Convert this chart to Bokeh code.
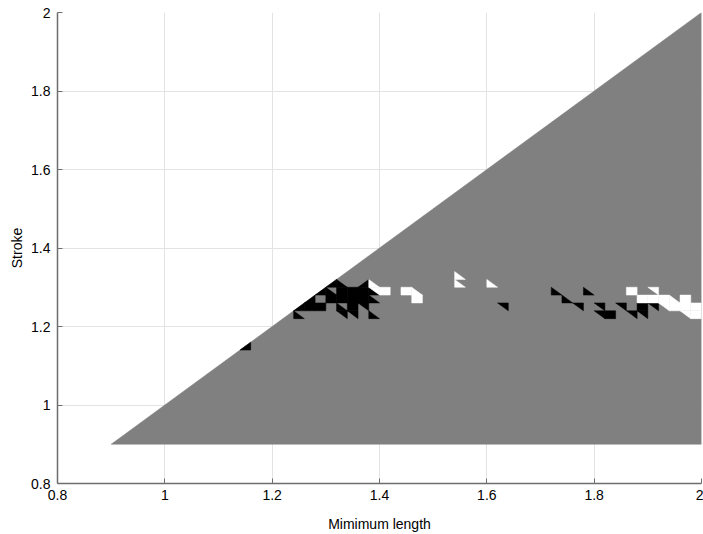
from bokeh.plotting import figure
from bokeh.models import FixedTicker
from bokeh.embed import file_html
from bokeh.resources import INLINE

# domain polygon (feasible region)
domain_x = [0.9, 2.0, 2.0]
domain_y = [0.9, 2.0, 0.9]

# mesh parameters
mesh_origin = 0.9
mesh_step = 0.02

# black triangles: cell column, cell row, triangle type
black_i = [12, 17, 21, 22, 24,
           17, 18, 19, 21, 22, 23,
           18, 20, 21, 22, 23, 24,
           19, 20, 21, 22, 23, 24,
           20, 21, 23,
           36, 41, 42, 43, 44, 45, 45, 46, 47, 48, 49, 50, 49]
black_j = [12, 16, 16, 16, 16,
           17, 17, 17, 17, 17, 17,
           18, 18, 18, 18, 18, 18,
           19, 19, 19, 19, 19, 19,
           20, 20, 20,
           17, 19, 18, 17, 19, 17, 16, 16, 17, 16, 17, 17, 16]
black_t = ["L", "A", "B", "B", "A",
           "L", "F", "F", "A", "F", "B",
           "L", "F", "F", "F", "F", "A",
           "L", "A", "F", "F", "F", "A",
           "L", "A", "L",
           "B", "A", "A", "B", "A", "B", "B", "F", "B", "B", "F", "B", "B"]

# white triangles
white_i = [24, 24, 25, 27, 28, 28, 32, 32, 35,
           48, 50, 49, 50, 51, 52, 53, 51, 52, 53, 54, 53, 54]
white_j = [20, 19, 19, 19, 19, 18, 21, 20, 20,
           19, 19, 18, 18, 18, 18, 18, 17, 17, 17, 17, 16, 16]
white_t = ["A", "B", "F", "F", "A", "F", "A", "A", "A",
           "F", "B", "F", "F", "F", "A", "F", "B", "F", "F", "F", "B", "F"]

x_ticks = [0.8, 1.0, 1.2, 1.4, 1.6, 1.8, 2.0]
x_tick_labels = ["0.8", "1", "1.2", "1.4", "1.6", "1.8", "2"]
y_ticks = [0.8, 1.0, 1.2, 1.4, 1.6, 1.8, 2.0]
y_tick_labels = ["0.8", "1", "1.2", "1.4", "1.6", "1.8", "2"]


def tri(i, j, t):
    xa = mesh_origin + i * mesh_step
    xb = xa + mesh_step
    ya = mesh_origin + j * mesh_step
    yb = ya + mesh_step
    if t == "L":
        return [xa, xb, xb], [ya, ya, yb]
    if t == "U":
        return [xa, xa, xb], [ya, yb, yb]
    if t == "A":
        return [xa, xa, xb], [yb, ya, ya]
    if t == "B":
        return [xa, xb, xb], [yb, yb, ya]
    return [xa, xb, xb, xa], [ya, ya, yb, yb]


def build(iis, jjs, tts):
    xs, ys = [], []
    for i, j, t in zip(iis, jjs, tts):
        x, y = tri(i, j, t)
        xs.append(x)
        ys.append(y)
    return xs, ys


p = figure(width=703, height=534, x_range=(0.8, 2.0), y_range=(0.8, 2.0),
           output_backend="svg", toolbar_location=None,
           min_border_left=57, min_border_right=2, min_border_top=12,
           min_border_bottom=50)
p.outline_line_color = None
p.background_fill_color = "white"

p.patch(domain_x, domain_y, fill_color="#808080", line_color="#808080",
        line_width=0.5)

bx, by = build(black_i, black_j, black_t)
p.patches(bx, by, fill_color="black", line_color="black", line_width=0.5)
wx, wy = build(white_i, white_j, white_t)
p.patches(wx, wy, fill_color="white", line_color="white", line_width=0.5)

p.xaxis.ticker = FixedTicker(ticks=x_ticks)
p.yaxis.ticker = FixedTicker(ticks=y_ticks)
p.xaxis.major_label_overrides = dict(zip(x_ticks, x_tick_labels))
p.yaxis.major_label_overrides = dict(zip(y_ticks, y_tick_labels))
p.xaxis.axis_label = "Mimimum length"
p.yaxis.axis_label = "Stroke"

for ax in (p.xaxis[0], p.yaxis[0]):
    ax.axis_line_color = "#6e6e6e"
    ax.axis_line_width = 1.5
    ax.major_tick_in = 5
    ax.major_tick_out = 0
    ax.major_tick_line_color = "#6e6e6e"
    ax.minor_tick_line_color = None
    ax.major_label_text_font = "Liberation Sans"
    ax.major_label_text_font_size = "14px"
    ax.major_label_text_color = "black"
    ax.axis_label_text_font = "Liberation Sans"
    ax.axis_label_text_font_size = "14px"
    ax.axis_label_text_font_style = "normal"
    ax.axis_label_text_color = "black"

p.xaxis.major_label_standoff = 6
p.yaxis.major_label_standoff = 7
p.xaxis.axis_label_standoff = 13
p.yaxis.axis_label_standoff = 3

p.xgrid.grid_line_color = "#e3e3e3"
p.ygrid.grid_line_color = "#e3e3e3"
p.xgrid.grid_line_width = 1
p.ygrid.grid_line_width = 1

open("out.html", "w").write(file_html(p, INLINE))
